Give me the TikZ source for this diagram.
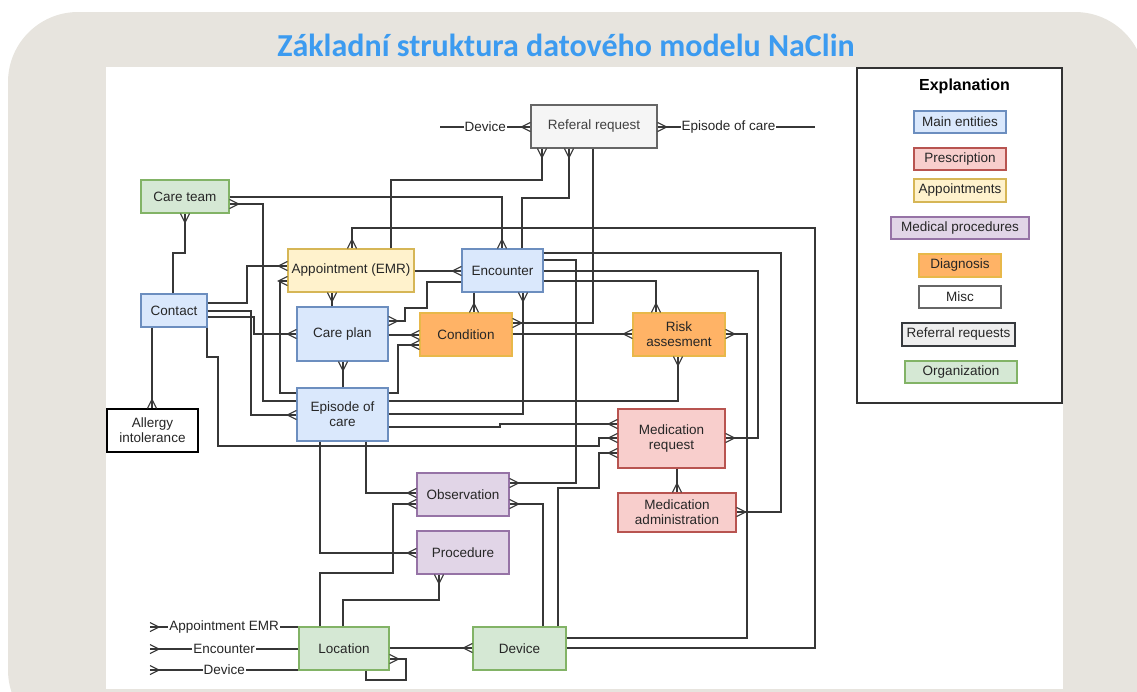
\documentclass[tikz,border=0pt]{standalone}
\usepackage{fontspec}
\setmainfont{Liberation Sans}
\newfontfamily\headfont{Carlito}
\usepackage{tikz}

\definecolor{bgbeige}{RGB}{231,228,222}
\definecolor{headblue}{RGB}{60,155,240}
\definecolor{linegray}{RGB}{55,55,55}
\definecolor{blueF}{HTML}{DAE8FC}\definecolor{blueD}{HTML}{6C8EBF}
\definecolor{redF}{HTML}{F8CECC}\definecolor{redD}{HTML}{B85450}
\definecolor{yelF}{HTML}{FFF2CC}\definecolor{yelD}{HTML}{D6B656}
\definecolor{purF}{HTML}{E1D5E7}\definecolor{purD}{HTML}{9673A6}
\definecolor{oraF}{HTML}{FFB366}\definecolor{oraD}{HTML}{E8B84A}
\definecolor{grnF}{HTML}{D5E8D4}\definecolor{grnD}{HTML}{82B366}
\definecolor{gryF}{HTML}{F5F5F5}\definecolor{gryD}{HTML}{666666}
\definecolor{refF}{HTML}{EEEEEE}\definecolor{refD}{HTML}{36393D}

\pgfdeclarearrow{
	name = many,
	setup code = {
		\pgfarrowssettipend{0pt}
		\pgfarrowssetlineend{0pt}
		\pgfarrowssetbackend{-9pt}
		\pgfarrowssetvisualbackend{-9pt}
		\pgfarrowshullpoint{0pt}{4.5pt}
		\pgfarrowshullpoint{0pt}{-4.5pt}
		\pgfarrowshullpoint{-9pt}{0pt}
	},
	drawing code = {
		\pgfsetdash{}{0pt}
		\pgfpathmoveto{\pgfqpoint{0pt}{4.5pt}}
		\pgfpathlineto{\pgfqpoint{-9pt}{0pt}}
		\pgfpathlineto{\pgfqpoint{0pt}{-4.5pt}}
		\pgfusepathqstroke
	},
}

\begin{document}
\begin{tikzpicture}[x=1pt,y=-1pt,
	box/.style={draw, line width=1.2pt, align=center, inner sep=2pt, text=black!85,
		font=\fontsize{13.5pt}{15pt}\selectfont},
	sz/.style 2 args={minimum width=#1pt, minimum height=#2pt},
	mainbox/.style={box, fill=blueF, draw=blueD},
	rxbox/.style={box, fill=redF, draw=redD},
	apbox/.style={box, fill=yelF, draw=yelD},
	procbox/.style={box, fill=purF, draw=purD},
	diagbox/.style={box, fill=oraF, draw=oraD},
	miscbox/.style={box, fill=white, draw=black},
	orgbox/.style={box, fill=grnF, draw=grnD},
	link/.style={draw=linegray, line width=1.1pt},
	lbl/.style={fill=white, inner sep=1pt, text=black!85, font=\fontsize{13.5pt}{15pt}\selectfont}]

		\useasboundingbox (0,0) rectangle (1137,691);
		\fill[bgbeige, rounded corners=70pt] (8,12) rectangle (1145,740);
		\fill[white] (106,67) rectangle (1063,689);

		\node (TITLE) at (566,56) [anchor=base, text=headblue, font={\headfont\fontsize{32pt}{36pt}\bfseries}] {Základní struktura datového modelu NaClin};

		\node (REF) at (594,126.5) [box, sz={126}{43}, fill=gryF, draw=gryD, text=black!75] {Referal request};
		\node (CT) at (185,196.5) [orgbox, sz={88}{33}] {Care team};
		\node (CON) at (174,310.5) [mainbox, sz={66}{33}] {Contact};
		\node (ALG) at (152.5,430.5) [miscbox, sz={91}{43}] {Allergy\\intolerance};
		\node (APP) at (351,270.5) [apbox, sz={126}{43}] {Appointment (EMR)};
		\node (ENC) at (502.5,270.5) [mainbox, sz={81}{43}] {Encounter};
		\node (CP) at (342.5,334) [mainbox, sz={91}{54}] {Care plan};
		\node (COND) at (466,334.5) [diagbox, sz={92}{43}] {Condition};
		\node (RISK) at (679,334.5) [diagbox, sz={92}{43}] {Risk\\assesment};
		\node (EOC) at (342.5,414.5) [mainbox, sz={91}{53}] {Episode of\\care};
		\node (MR) at (671.5,438.5) [rxbox, sz={107}{59}] {Medication\\request};
		\node (MA) at (677,512.5) [rxbox, sz={118}{39}] {Medication\\administration};
		\node (OBS) at (463,494.5) [procbox, sz={92}{43}] {Observation};
		\node (PROC) at (463,552.5) [procbox, sz={92}{43}] {Procedure};
		\node (LOC) at (344,648.5) [orgbox, sz={90}{43}] {Location};
		\node (DEV) at (519.5,648.5) [orgbox, sz={93}{43}] {Device};

		\coordinate (REFDEV) at (440,127);
		\coordinate (REFEOC) at (815,127);
		\coordinate (LOCAPP) at (150,627);
		\coordinate (LOCENC) at (150,649);
		\coordinate (LOCDEV) at (150,670);

		\draw[link,-many] (REFDEV) -- node[lbl] {Device} (REF.west |- 0,127);
		\draw[link,many-] (REF.east |- 0,127) -- node[lbl, pos=0.45] {Episode of care} (REFEOC);
		\draw[link,many-] (LOCAPP) -- node[lbl] {Appointment EMR} (LOC.west |- 0,627);
		\draw[link,many-] (LOCENC) -- node[lbl] {Encounter} (LOC.west |- 0,649);
		\draw[link,many-] (LOCDEV) -- node[lbl] {Device} (LOC.west |- 0,670);

		\draw[link,-many] (CT.east |- 0,197) -- (502,197) -- (ENC.north -| 502,0);
		\draw[link,-many] (EOC.west |- 0,401) -- (263,401) -- (263,204) -- (CT.east |- 0,204);
		\draw[link,-many] (CON.north -| 173,0) -- (173,253) -- (185,253) -- (CT.south -| 185,0);
		\draw[link,-many] (DEV.east |- 0,648) -- (815,648) -- (815,228) -- (352,228) -- (APP.north -| 352,0);
		\draw[link,-many] (APP.north -| 391,0) -- (391,180) -- (542,180) -- (REF.south -| 542,0);
		\draw[link,-many] (ENC.north -| 522,0) -- (522,198) -- (569,198) -- (REF.south -| 569,0);
		\draw[link,-many] (REF.south -| 593,0) -- (593,323) -- (COND.east |- 0,323);
		\draw[link,-many] (APP.east |- 0,271) -- (ENC.west |- 0,271);
		\draw[link,-many] (CON.east |- 0,303) -- (247,303) -- (247,266) -- (APP.west |- 0,266);
		\draw[link,-many] (EOC.west |- 0,393) -- (280,393) -- (280,281) -- (APP.west |- 0,281);
		\draw[link,-many] (CP.north -| 332,0) -- (APP.south -| 332,0);
		\draw[link,-many] (CON.east |- 0,311) -- (251,311) -- (251,415) -- (EOC.west |- 0,415);
		\draw[link,-many] (CON.east |- 0,317) -- (254,317) -- (254,334) -- (CP.west |- 0,334);
		\draw[link,-many] (CON.south -| 207,0) -- (207,357) -- (218,357) -- (218,446) -- (599,446) -- (599,438) -- (MR.west |- 0,438);
		\draw[link,-many] (CON.south -| 152,0) -- (ALG.north -| 152,0);
		\draw[link,-many] (EOC.east |- 0,427) -- (500,427) -- (500,424) -- (MR.west |- 0,424);
		\draw[link,-many] (EOC.east |- 0,414) -- (523,414) -- (ENC.south -| 523,0);
		\draw[link,-many] (EOC.east |- 0,401) -- (678,401) -- (RISK.south -| 678,0);
		\draw[link,-many] (EOC.north -| 343,0) -- (CP.south -| 343,0);
		\draw[link,-many] (EOC.east |- 0,393) -- (398,393) -- (398,345) -- (COND.west |- 0,345);
		\draw[link,-many] (CP.east |- 0,335) -- (COND.west |- 0,335);
		\draw[link,-many] (ENC.west |- 0,282) -- (427,282) -- (427,308) -- (405,308) -- (405,321) -- (CP.east |- 0,321);
		\draw[link,-many] (ENC.south -| 474,0) -- (COND.north -| 474,0);
		\draw[link,-many] (ENC.east |- 0,281) -- (656,281) -- (RISK.north -| 656,0);
		\draw[link,-many] (ENC.east |- 0,260) -- (576,260) -- (576,483) -- (OBS.east |- 0,483);
		\draw[link,-many] (ENC.east |- 0,271) -- (758,271) -- (758,438) -- (MR.east |- 0,438);
		\draw[link,-many] (ENC.east |- 0,253) -- (781,253) -- (781,512) -- (MA.east |- 0,512);
		\draw[link,-many] (COND.east |- 0,334) -- (RISK.west |- 0,334);
		\draw[link,-many] (DEV.east |- 0,638) -- (747,638) -- (747,334) -- (RISK.east |- 0,334);
		\draw[link,-many] (MR.south -| 677,0) -- (MA.north -| 677,0);
		\draw[link,-many] (DEV.north -| 558,0) -- (558,488) -- (599,488) -- (599,453) -- (MR.west |- 0,453);
		\draw[link,-many] (DEV.north -| 543,0) -- (543,504) -- (OBS.east |- 0,504);
		\draw[link,-many] (EOC.south -| 366,0) -- (366,493) -- (OBS.west |- 0,493);
		\draw[link,-many] (LOC.north -| 320,0) -- (320,573) -- (393,573) -- (393,504) -- (OBS.west |- 0,504);
		\draw[link,-many] (EOC.south -| 320,0) -- (320,553) -- (PROC.west |- 0,553);
		\draw[link,-many] (LOC.north -| 343,0) -- (343,600) -- (439,600) -- (PROC.south -| 439,0);
		\draw[link,-many] (LOC.east |- 0,648) -- (DEV.west |- 0,648);
		\draw[link,-many] (LOC.south -| 366,0) -- (366,680) -- (406,680) -- (406,659) -- (LOC.east |- 0,659);

		\node (EXPL) at (959.5,235.5) [draw=black!80, line width=1.2pt, fill=white, minimum width=205pt, minimum height=335pt] {};
		\node (EXPLT) at (964.5,86) [font=\fontsize{16pt}{18pt}\selectfont\bfseries] {Explanation};
		\node (LGMAIN) at (960,122) [mainbox, sz={92}{22}, inner sep=1pt] {Main entities};
		\node (LGRX) at (960,159) [rxbox, sz={92}{22}, inner sep=1pt] {Prescription};
		\node (LGAPP) at (960,190.5) [apbox, sz={92}{23}, inner sep=1pt] {Appointments};
		\node (LGPROC) at (960,228) [procbox, sz={138}{22}, inner sep=1pt] {Medical procedures};
		\node (LGDIAG) at (960,265.5) [diagbox, sz={82}{23}, inner sep=1pt] {Diagnosis};
		\node (LGMISC) at (960,297) [box, sz={82}{22}, inner sep=1pt, fill=white, draw=gryD, line width=1.6pt] {Misc};
		\node (LGREF) at (958.5,334.5) [box, sz={113}{23}, inner sep=1pt, fill=refF, draw=refD] {Referral requests};
		\node (LGORG) at (961,372) [orgbox, sz={112}{22}, inner sep=1pt] {Organization};
\end{tikzpicture}
\end{document}
